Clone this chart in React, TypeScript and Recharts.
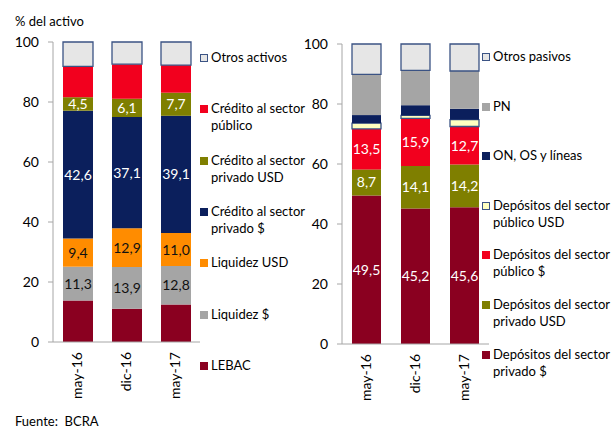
import React from 'react';
import { BarChart, Bar, XAxis, YAxis, LabelList } from 'recharts';

const periods = ['may-16', 'dic-16', 'may-17'];

// Activo (% del activo)
const lebac = [13.8, 11.1, 12.5];
const liquidezPesos = [11.3, 13.9, 12.8];
const liquidezUsd = [9.4, 12.9, 11.0];
const creditoPrivadoPesos = [42.6, 37.1, 39.1];
const creditoPrivadoUsd = [4.5, 6.1, 7.7];
const creditoPublico = [10.3, 11.5, 9.2];
const otrosActivos = [8.1, 7.4, 7.7];

// Pasivo + PN
const depPrivadoPesos = [49.5, 45.2, 45.6];
const depPrivadoUsd = [8.7, 14.1, 14.2];
const depPublicoPesos = [13.5, 15.9, 12.7];
const depPublicoUsd = [1.9, 1.0, 2.3];
const onOsLineas = [2.7, 3.4, 3.6];
const pn = [13.6, 11.6, 12.6];
const otrosPasivos = [10.1, 8.8, 9.0];

const yTicks = [0, 20, 40, 60, 80, 100];

const FONT = 'Lato, "Open Sans", sans-serif';
const AXIS = '#a6a6a6';
const BORDER = '#3b5384';

type Serie = { key: string; name: string; color: string; values: number[]; label?: string; stroke?: string };

// stack order: bottom first
const activoSeries: Serie[] = [
  { key: 'lebac', name: 'LEBAC', color: '#8a0020', values: lebac },
  { key: 'liqP', name: 'Liquidez $', color: '#a5a5a5', values: liquidezPesos, label: '#111' },
  { key: 'liqU', name: 'Liquidez USD', color: '#ff8c00', values: liquidezUsd, label: '#111' },
  { key: 'crP', name: 'Crédito al sector\nprivado $', color: '#0b1f5c', values: creditoPrivadoPesos, label: '#fff' },
  { key: 'crU', name: 'Crédito al sector\nprivado USD', color: '#7f7f00', values: creditoPrivadoUsd, label: '#fff' },
  { key: 'crPub', name: 'Crédito al sector\npúblico', color: '#f2001e', values: creditoPublico },
  { key: 'otros', name: 'Otros activos', color: '#e6e6e6', values: otrosActivos, stroke: BORDER },
];

const pasivoSeries: Serie[] = [
  { key: 'dpP', name: 'Depósitos del sector\nprivado $', color: '#8a0020', values: depPrivadoPesos, label: '#fff' },
  { key: 'dpU', name: 'Depósitos del sector\nprivado USD', color: '#7f7f00', values: depPrivadoUsd, label: '#fff' },
  { key: 'dpubP', name: 'Depósitos del sector\npúblico $', color: '#f2001e', values: depPublicoPesos, label: '#fff' },
  { key: 'dpubU', name: 'Depósitos del sector\npúblico USD', color: '#ffffc0', values: depPublicoUsd, stroke: BORDER },
  { key: 'on', name: 'ON, OS y líneas', color: '#0b1f5c', values: onOsLineas },
  { key: 'pn', name: 'PN', color: '#a5a5a5', values: pn },
  { key: 'otros', name: 'Otros pasivos', color: '#e6e6e6', values: otrosPasivos, stroke: BORDER },
];

const toRows = (series: Serie[]) =>
  periods.map((p, i) => {
    const row: Record<string, string | number> = { period: p };
    series.forEach((s) => (row[s.key] = s.values[i]));
    return row;
  });

const fmt = (v: any) => Number(v).toFixed(1).replace('.', ',');

const RotTick = (props: any) => {
  const { x, y, payload } = props;
  const ty = y + 2;
  return (
    <text x={x} y={ty} transform={`rotate(-90, ${x}, ${ty})`} textAnchor="end" dy="0.35em"
      fill="#000" fontSize={14} fontFamily={FONT}>
      {payload.value}
    </text>
  );
};

const StackChart = ({ series, top, barSize }: { series: Serie[]; top: number; barSize: number }) => (
  <BarChart width={200} height={top + 300 + 60} data={toRows(series)}
    margin={{ top, right: 0, left: 0, bottom: 2 }} barSize={barSize}>
    <XAxis dataKey="period" axisLine={{ stroke: AXIS }} tickLine={false} height={58} tick={<RotTick />} interval={0} />
    <YAxis domain={[0, 100]} ticks={yTicks} width={53} axisLine={{ stroke: AXIS }} tickLine={{ stroke: AXIS }}
      tickSize={5} tickMargin={9} tick={{ fill: '#000', fontSize: 14, fontFamily: FONT }} interval={0} />
    {series.map((s) => (
      <Bar key={s.key} dataKey={s.key} stackId="a" fill={s.color} isAnimationActive={false}
        stroke={s.stroke} strokeWidth={s.stroke ? 1.3 : 0}>
        {s.label && (
          <LabelList dataKey={s.key} position="center" fill={s.label} fontSize={14} fontFamily={FONT} formatter={fmt} />
        )}
      </Bar>
    ))}
  </BarChart>
);

const Legend = ({ series, left, top, step }: { series: Serie[]; left: number; top: number; step: number }) => (
  <>
    {[...series].reverse().map((s, i) => (
      <React.Fragment key={s.key}>
        <div style={{ position: 'absolute', left, top: top + i * step - 4, width: 8, height: 8, background: s.color,
          boxSizing: 'border-box', border: s.stroke ? `1px solid ${s.stroke}` : 'none', zIndex: 2 }} />
        <div style={{ position: 'absolute', left: left + 11, top: top + i * step - 9, whiteSpace: 'pre', lineHeight: '17px',
          fontSize: 13, fontFamily: FONT, color: '#000', zIndex: 2 }}>
          {s.name}
        </div>
      </React.Fragment>
    ))}
  </>
);

export default function App() {
  return (
    <div style={{ position: 'absolute', left: 0, top: 0, width: 613, height: 428, background: '#fff', fontFamily: FONT, overflow: 'hidden' }}>
      <div style={{ position: 'absolute', left: 15, top: 13, fontSize: 13, lineHeight: '16px' }}>% del activo</div>
      <div style={{ position: 'absolute', left: 0, top: 0 }}>
        <StackChart series={activoSeries} top={42} barSize={30} />
      </div>
      <div style={{ position: 'absolute', left: 289, top: 0 }}>
        <StackChart series={pasivoSeries} top={44} barSize={29} />
      </div>
      <Legend series={activoSeries} left={200} top={58} step={51.3} />
      <Legend series={pasivoSeries} left={482} top={57} step={49.6} />
      <div style={{ position: 'absolute', left: 15, top: 414, fontSize: 13, lineHeight: '14px' }}>Fuente:&nbsp; BCRA</div>
    </div>
  );
}
